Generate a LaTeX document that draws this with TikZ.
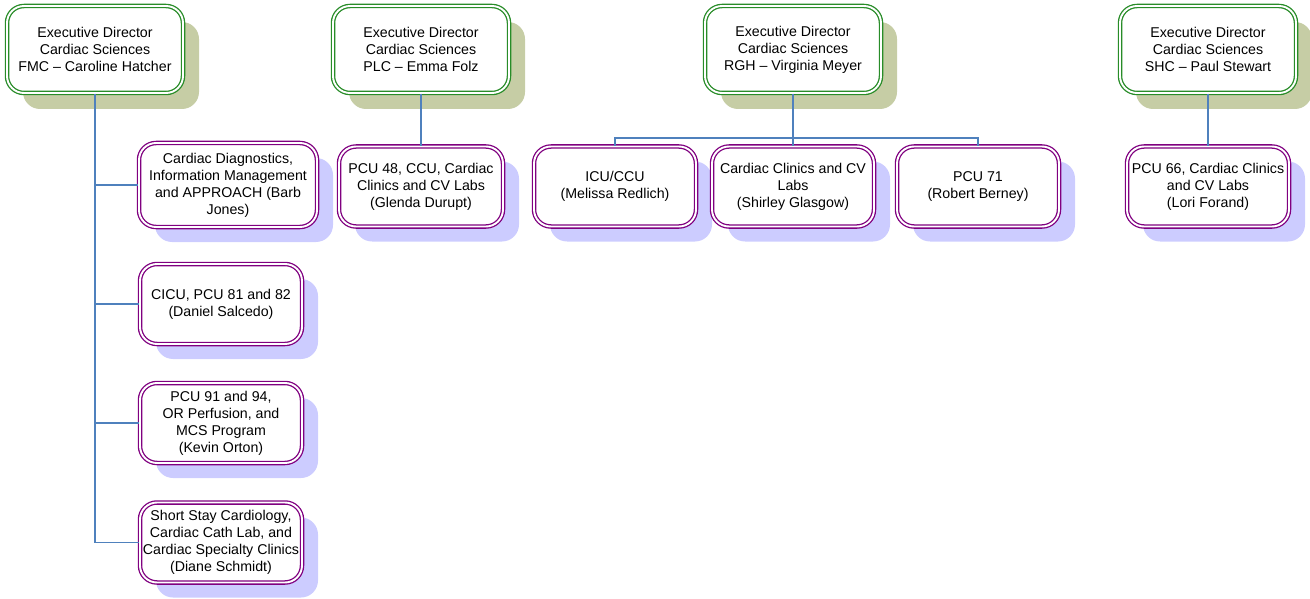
\documentclass[tikz,border=0pt]{standalone}
\usepackage{fontspec}
\setmainfont{Liberation Sans}
\usetikzlibrary{shadows}
\definecolor{dirgreen}{RGB}{40,140,40}
\definecolor{mgrpurple}{RGB}{128,0,128}
\definecolor{olivesh}{RGB}{198,205,165}
\definecolor{lavsh}{RGB}{204,204,255}
\definecolor{linkblue}{RGB}{79,129,189}
\tikzset{
  orgbox/.style={rectangle, rounded corners=17pt, align=center, inner sep=0pt,
    line width=1.3pt, double=white, double distance=1.9pt, fill=white,
    font=\fontsize{14.2}{17}\selectfont},
  director/.style={orgbox, draw=dirgreen, minimum width=176pt, minimum height=87pt,
    general shadow={fill=olivesh, shadow xshift=16pt, shadow yshift=-16pt}},
  manager/.style={orgbox, draw=mgrpurple, minimum width=162pt, minimum height=80pt,
    general shadow={fill=lavsh, shadow xshift=16pt, shadow yshift=-15pt}},
  link/.style={draw=linkblue, line width=1.2pt}
}
\begin{document}
\begin{tikzpicture}[x=1pt, y=-1pt]
  \useasboundingbox (0,0) rectangle (1310,599);
  % directors
  \node[director] (fmc) at (95,49.5) {Executive Director\\Cardiac Sciences\\FMC -- Caroline Hatcher};
  \node[director] (plc) at (421,49.5) {Executive Director\\Cardiac Sciences\\PLC -- Emma Folz};
  \node[director] (rgh) at (793,49.5) {Executive Director\\Cardiac Sciences\\RGH -- Virginia Meyer};
  \node[director] (shc) at (1208,49.5) {Executive Director\\Cardiac Sciences\\SHC -- Paul Stewart};

  % FMC
  \node[manager, minimum width=178pt, minimum height=84pt] (diag) at (228,185)
    {Cardiac Diagnostics,\\Information Management\\and APPROACH (Barb\\Jones)};
  \node[manager] (cicu) at (221,304) {CICU, PCU 81 and 82\\(Daniel Salcedo)};
  \node[manager] (pcu91) at (221,423) {PCU 91 and 94,\\OR Perfusion, and\\MCS Program\\(Kevin Orton)};
  \node[manager] (short) at (221,542.5) {Short Stay Cardiology,\\Cardiac Cath Lab, and\\Cardiac Specialty Clinics\\(Diane Schmidt)};
  % PLC, RGH, SHC
  \node[manager, minimum width=164pt] (pcu48) at (421,186.5) {PCU 48, CCU, Cardiac\\Clinics and CV Labs\\(Glenda Durupt)};
  \node[manager] (icu) at (615,186.5) {ICU/CCU\\(Melissa Redlich)};
  \node[manager] (clinics) at (793,186.5) {Cardiac Clinics and CV\\Labs\\(Shirley Glasgow)};
  \node[manager] (pcu71) at (978,186.5) {PCU 71\\(Robert Berney)};
  \node[manager] (pcu66) at (1208,186.5) {PCU 66, Cardiac Clinics\\and CV Labs\\(Lori Forand)};

  % connectors
  \draw[link] (fmc.south) -- (fmc.south |- short.west);
  \foreach \n in {diag,cicu,pcu91,short}
    \draw[link] (fmc.south |- \n.west) -- (\n.west);
  \draw[link] (plc.south) -- (pcu48.north);
  \coordinate (rghbus) at (rgh.south |- 0,138);
  \draw[link] (rgh.south) -- (clinics.north);
  \draw[link] (icu.north) |- (rghbus) -| (pcu71.north);
  \draw[link] (shc.south) -- (pcu66.north);
\end{tikzpicture}
\end{document}
